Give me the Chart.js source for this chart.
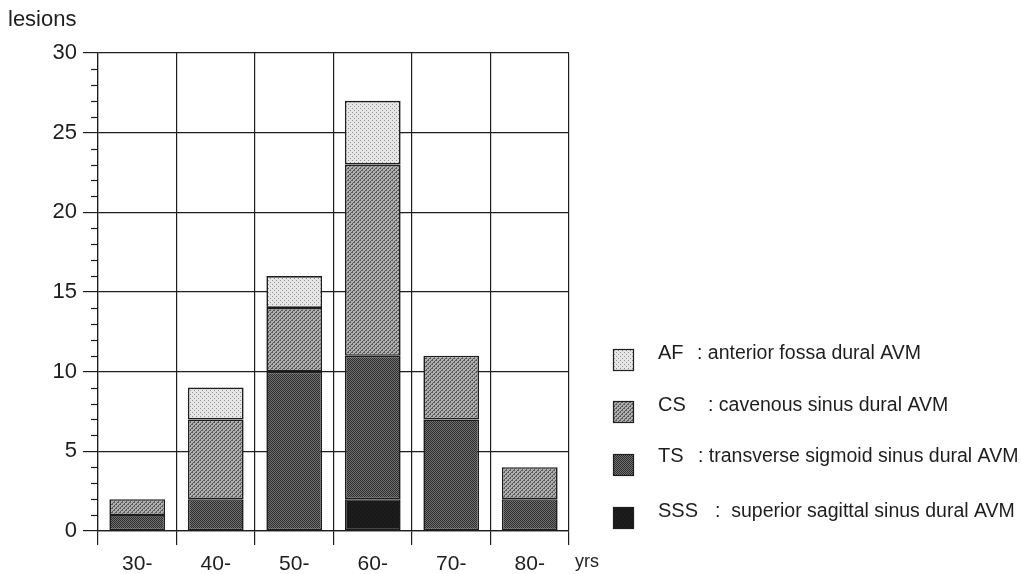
<!DOCTYPE html>
<html>
<head>
<meta charset="utf-8">
<script src="https://cdn.jsdelivr.net/npm/chart.js@4"></script>
<style>
    body { margin: 0; background: #fff; }
</style>
</head>
<body>
<canvas id="chart" width="1021" height="574"></canvas>
<script>
// age groups and lesion counts per dural AVM site
const categories = ["30-", "40-", "50-", "60-", "70-", "80-"];
const sss = [0, 0, 0, 2, 0, 0];
const ts  = [1, 2, 10, 9, 7, 2];
const cs  = [1, 5, 4, 12, 4, 2];
const af  = [0, 2, 2, 4, 0, 0];
const yTicks = [0, 5, 10, 15, 20, 25, 30];

const abbrevs = ["AF", "CS", "TS", "SSS"];
const descs = [": anterior fossa dural AVM", ": cavenous sinus dural AVM",
               ": transverse sigmoid sinus dural AVM", ":  superior sagittal sinus dural AVM"];

const FONT = "'Liberation Sans', Arial, sans-serif";
const ink = '#1e1e1e';

// little halftone tiles, the print used dotted screens
function makePattern(base, dot, kind) {
    let c = document.createElement('canvas');
    c.width = 4; c.height = 4;
    let g = c.getContext('2d');
    g.fillStyle = base;
    g.fillRect(0, 0, 4, 4);
    g.fillStyle = dot;
    if (kind == 'dots') {
        g.fillRect(0, 0, 1, 1);
        g.fillRect(2, 2, 1, 1);
    } else if (kind == 'diag') {
        for (let i = 0; i < 4; i++) g.fillRect(i, 3 - i, 1, 1);
        g.fillRect(0, 0, 1, 1);
        g.fillRect(2, 2, 1, 1);
    } else if (kind == 'check') {
        g.fillRect(0, 0, 1, 1); g.fillRect(2, 0, 1, 1);
        g.fillRect(1, 1, 1, 1); g.fillRect(3, 1, 1, 1);
        g.fillRect(0, 2, 1, 1); g.fillRect(2, 2, 1, 1);
        g.fillRect(1, 3, 1, 1); g.fillRect(3, 3, 1, 1);
    }
    return g.createPattern(c, 'repeat');
}

const fillAF  = makePattern('#e6e6e6', '#939393', 'dots');
const fillCS  = makePattern('#b0b0b0', '#595959', 'diag');
const fillTS  = makePattern('#707070', '#2e2e2e', 'check');
const fillSSS = makePattern('#1c1c1c', '#111111', 'dots');

function segBorder(ctx) {
    return ctx.raw ? 1.6 : 0;
}

const extras = {
    id: 'extras',
    afterDraw(chart) {
        const c = chart.ctx;
        const y = chart.scales.y;
        c.save();
        // minor ticks on the y axis
        c.strokeStyle = ink;
        c.lineWidth = 1.2;
        for (let v = 0; v <= 30; v++) {
            if (v % 5 == 0) continue;
            let py = Math.round(y.getPixelForValue(v)) + 0.5;
            c.beginPath();
            c.moveTo(91, py);
            c.lineTo(98, py);
            c.stroke();
        }
        c.fillStyle = ink;
        c.textBaseline = 'middle';
        c.font = '22px ' + FONT;
        c.fillText('lesions', 8, 20);
        c.font = '18px ' + FONT;
        c.fillText('yrs', 575, 562);

        // legend, top to bottom AF, CS, TS, SSS
        const fills = [fillAF, fillCS, fillTS, fillSSS];
        const boxY = [360, 412, 465, 518];
        const textY = [353, 405, 456, 511];
        const descX = [697, 708, 698, 715];
        for (let i = 0; i < 4; i++) {
            c.fillStyle = fills[i];
            c.fillRect(613, boxY[i] - 11, 21, 22);
            c.strokeStyle = ink;
            c.lineWidth = 1.2;
            c.strokeRect(613.5, boxY[i] - 10.5, 20, 21);
            c.fillStyle = ink;
            c.font = '20px ' + FONT;
            c.fillText(abbrevs[i], 658, textY[i]);
            c.font = '19.5px ' + FONT;
            c.fillText(descs[i], descX[i], textY[i] + 1);
        }
        c.restore();
    }
};

new Chart(document.getElementById('chart'), {
    type: 'bar',
    data: {
        labels: categories,
        datasets: [
            { label: 'SSS', data: sss, backgroundColor: fillSSS },
            { label: 'TS', data: ts, backgroundColor: fillTS },
            { label: 'CS', data: cs, backgroundColor: fillCS },
            { label: 'AF', data: af, backgroundColor: fillAF }
        ].map(d => Object.assign(d, {
            borderColor: ink,
            borderWidth: segBorder,
            borderSkipped: false,
            barPercentage: 0.71,
            categoryPercentage: 1
        }))
    },
    options: {
        responsive: false,
        animation: false,
        layout: { padding: { left: 0, top: 53, right: 452, bottom: 0 } },
        plugins: {
            legend: { display: false },
            tooltip: { enabled: false }
        },
        scales: {
            x: {
                stacked: true,
                afterFit: s => { s.height = 43; },
                grid: { color: ink, lineWidth: 1.2, tickLength: 14, offset: true },
                border: { color: ink, width: 1.2 },
                ticks: { color: ink, padding: 7, font: { family: FONT, size: 21 } }
            },
            y: {
                stacked: true,
                min: 0,
                max: 30,
                afterFit: s => { s.width = 98; },
                afterBuildTicks: s => { s.ticks = yTicks.map(v => ({ value: v })); },
                grid: { color: ink, lineWidth: 1.2, tickLength: 15 },
                border: { color: ink, width: 1.2 },
                ticks: { color: ink, padding: 6, font: { family: FONT, size: 22 } }
            }
        }
    },
    plugins: [extras]
});
</script>
</body>
</html>
